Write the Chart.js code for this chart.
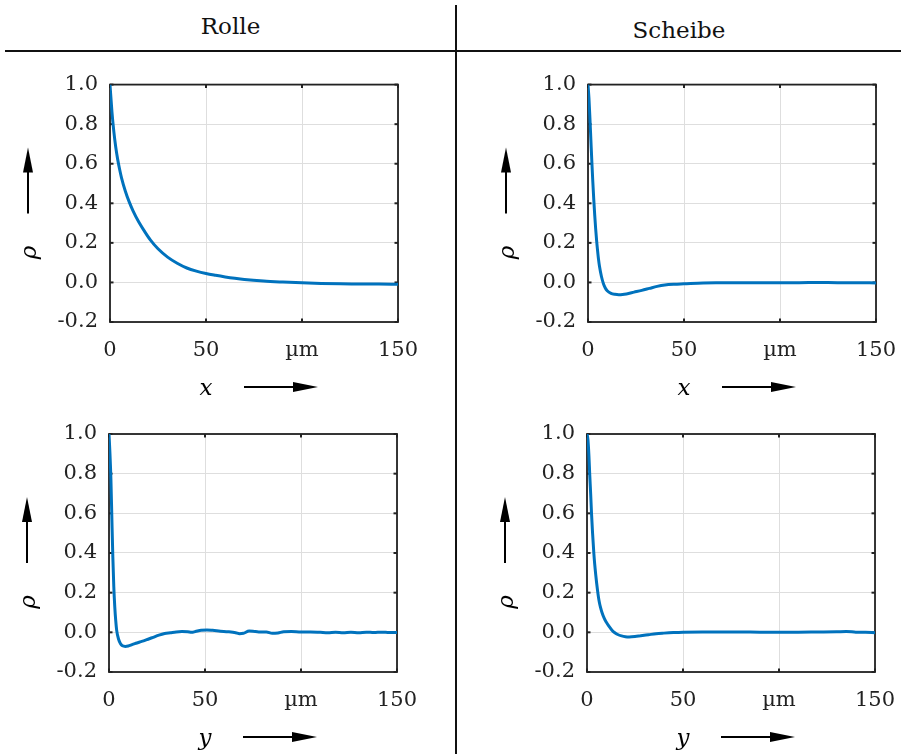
<!DOCTYPE html>
<html>
<head>
<meta charset="utf-8">
<script src="https://cdn.jsdelivr.net/npm/chart.js@4.4.1/dist/chart.umd.min.js"></script>
<style>
  html, body { margin: 0; padding: 0; background: #fff; }
  body { width: 902px; height: 754px; position: relative; overflow: hidden; font-family: "DejaVu Serif", serif; }
  canvas { position: absolute; }
  .head { position: absolute; font-size: 23px; line-height: 23px; color: #111; text-align: center; }
  .rule { position: absolute; background: #111; }
</style>
</head>
<body>
<div class="head" style="left:5px;width:451px;top:15px;">Rolle</div>
<div class="head" style="left:456px;width:446px;top:19px;">Scheibe</div>
<div class="rule" style="left:5px;width:896px;top:50px;height:2px;"></div>
<div class="rule" style="left:455px;width:2px;top:5px;height:749px;"></div>

<canvas id="c1" width="450" height="340" style="left:0px;top:60px;"></canvas>
<canvas id="c2" width="464" height="340" style="left:458px;top:60px;"></canvas>
<canvas id="c3" width="450" height="354" style="left:0px;top:400px;"></canvas>
<canvas id="c4" width="464" height="354" style="left:458px;top:400px;"></canvas>

<script>
// Axis ticks
const xTickValues = [0, 50, 100, 150];
const xTickLabels = ['0', '50', 'µm', '150'];
const yTickValues = [-0.2, 0, 0.2, 0.4, 0.6, 0.8, 1.0];
const yTickLabels = ['-0.2', '0.0', '0.2', '0.4', '0.6', '0.8', '1.0'];

// Roller, x direction: autocorrelation rho over lag (µm)
const rolleXLag = [0, 1, 2, 3, 4, 5, 6, 8, 10, 12, 15, 18, 21, 25, 30, 35, 40, 45, 50, 55, 60, 65, 70, 80, 90, 100, 110, 120, 130, 140, 150];
const rolleXRho = [1.0, 0.863, 0.762, 0.683, 0.622, 0.572, 0.529, 0.461, 0.407, 0.362, 0.305, 0.258, 0.215, 0.170, 0.128, 0.097, 0.073, 0.057, 0.045, 0.036, 0.028, 0.021, 0.015, 0.007, 0.002, -0.002, -0.005, -0.007, -0.008, -0.008, -0.009];

// Disc, x direction
const scheibeXLag = [0, 0.5, 1, 1.5, 2, 2.5, 3, 3.5, 4, 4.5, 5, 5.5, 6, 7, 8, 9, 10, 12, 14, 16, 18, 20, 24, 28, 32, 36, 40, 45, 50, 60, 70, 80, 90, 100, 110, 120, 130, 140, 150];
const scheibeXRho = [1.0, 0.93, 0.83, 0.72, 0.61, 0.51, 0.42, 0.34, 0.27, 0.21, 0.16, 0.115, 0.08, 0.03, -0.005, -0.028, -0.042, -0.055, -0.060, -0.062, -0.061, -0.058, -0.049, -0.040, -0.030, -0.020, -0.013, -0.009, -0.007, -0.003, -0.002, -0.001, -0.002, -0.001, -0.001, 0.0, -0.001, -0.001, -0.003];

// Roller, y direction
const rolleYLag = [0, 0.5, 1, 1.5, 2, 2.5, 3, 3.5, 4, 5, 6, 7, 8.5, 10, 12, 14, 16, 18, 20, 23, 26, 29, 32, 35, 38, 41, 43, 45, 48, 51, 54, 58, 62, 66, 68, 70, 73, 75, 78, 82, 85, 88, 91, 95, 100, 105, 110, 114, 118, 122, 126, 130, 134, 138, 142, 146, 150];
const rolleYRho = [1.0, 0.90, 0.77, 0.57, 0.38, 0.23, 0.13, 0.06, 0.01, -0.035, -0.058, -0.068, -0.071, -0.069, -0.062, -0.055, -0.049, -0.043, -0.036, -0.025, -0.014, -0.006, -0.002, 0.002, 0.004, 0.003, 0.0, 0.004, 0.011, 0.012, 0.010, 0.006, 0.003, -0.002, -0.007, -0.005, 0.007, 0.006, 0.002, 0.002, -0.005, -0.003, 0.003, 0.004, 0.002, 0.002, 0.0, -0.002, 0.001, -0.002, 0.001, -0.002, 0.001, -0.001, 0.001, -0.001, -0.001];

// Disc, y direction
const scheibeYLag = [0, 0.5, 1.0, 1.4, 1.9, 2.35, 2.9, 3.55, 4, 4.5, 5, 5.5, 6, 6.5, 7, 7.8, 9, 10, 11.5, 13, 14.5, 16, 18, 20, 22, 25, 28, 32, 36, 40, 45, 50, 60, 70, 80, 90, 100, 110, 120, 130, 135, 140, 145, 150];
const scheibeYRho = [1.0, 0.97, 0.89, 0.80, 0.70, 0.60, 0.50, 0.40, 0.345, 0.295, 0.25, 0.21, 0.175, 0.148, 0.127, 0.10, 0.07, 0.052, 0.030, 0.011, -0.002, -0.011, -0.018, -0.022, -0.023, -0.021, -0.017, -0.012, -0.007, -0.004, -0.001, 0.001, 0.002, 0.002, 0.002, 0.001, 0.001, 0.001, 0.002, 0.003, 0.004, 0.001, 0.0, -0.002];

const INK = '#222';
const TICK_FONT = { family: '"DejaVu Serif", serif', size: 21 };

function line(ctx, x1, y1, x2, y2) {
  ctx.beginPath(); ctx.moveTo(x1, y1); ctx.lineTo(x2, y2); ctx.stroke();
}

// Box around the plot area with inward tick marks
const framePlugin = {
  id: 'frame',
  beforeDatasetsDraw(chart) {
    const { ctx, chartArea: a, scales: { x, y } } = chart;
    ctx.save();
    ctx.strokeStyle = INK;
    ctx.lineWidth = 1.8;
    ctx.strokeRect(a.left, a.top, a.right - a.left, a.bottom - a.top);
    ctx.lineWidth = 2;
    const tl = 3.5;
    xTickValues.forEach(v => {
      const px = x.getPixelForValue(v);
      line(ctx, px, a.bottom, px, a.bottom - tl);
      line(ctx, px, a.top, px, a.top + tl);
    });
    yTickValues.forEach(v => {
      const py = y.getPixelForValue(v);
      line(ctx, a.left, py, a.left + tl, py);
      line(ctx, a.right, py, a.right - tl, py);
    });
    ctx.restore();
  }
};

// Axis symbols with arrows
const axisTitlePlugin = {
  id: 'axisTitles',
  afterDraw(chart, args, opts) {
    const { ctx, chartArea: a } = chart;
    ctx.save();
    ctx.fillStyle = '#000';
    ctx.strokeStyle = '#000';
    ctx.lineWidth = 2;
    ctx.font = 'italic 23px "DejaVu Serif", serif';

    // horizontal axis symbol and arrow
    ctx.textAlign = 'center';
    ctx.textBaseline = 'alphabetic';
    ctx.fillText(opts.xSymbol, a.left + 96, a.bottom + 73);
    const ay = a.bottom + 65;
    const ax0 = a.left + 134, ax1 = a.left + 208;
    line(ctx, ax0, ay, ax1 - 20, ay);
    ctx.beginPath();
    ctx.moveTo(ax1, ay); ctx.lineTo(ax1 - 25, ay - 5); ctx.lineTo(ax1 - 25, ay + 5); ctx.closePath();
    ctx.fill();

    // vertical axis symbol and arrow
    ctx.save();
    ctx.translate(a.left - 80, a.top + 168);
    ctx.rotate(-Math.PI / 2);
    ctx.textAlign = 'center';
    ctx.textBaseline = 'middle';
    ctx.fillText('ρ', 0, 0);
    ctx.restore();
    const vx = a.left - 82;
    const vy0 = a.top + 129, vy1 = a.top + 63;
    line(ctx, vx, vy0, vx, vy1 + 20);
    ctx.beginPath();
    ctx.moveTo(vx, vy1); ctx.lineTo(vx - 5, vy1 + 25); ctx.lineTo(vx + 5, vy1 + 25); ctx.closePath();
    ctx.fill();
    ctx.restore();
  }
};

function makeChart(id, lags, rho, pad, xSymbol) {
  const points = lags.map((l, i) => ({ x: l, y: rho[i] }));
  return new Chart(document.getElementById(id), {
    type: 'line',
    data: {
      datasets: [{
        data: points,
        borderColor: '#0072BD',
        borderWidth: 3,
        pointRadius: 0,
        cubicInterpolationMode: 'monotone',
        fill: false
      }]
    },
    options: {
      responsive: false,
      animation: false,
      devicePixelRatio: 1,
      layout: { padding: pad },
      plugins: {
        legend: { display: false },
        tooltip: { enabled: false },
        axisTitles: { xSymbol: xSymbol }
      },
      scales: {
        x: {
          type: 'linear',
          min: 0, max: 150,
          afterBuildTicks: s => { s.ticks = xTickValues.map(v => ({ value: v })); },
          afterFit: s => { s.height = 40; },
          grid: { color: '#dedede', lineWidth: 1, drawTicks: false },
          border: { display: false },
          ticks: {
            padding: 16,
            color: INK,
            font: TICK_FONT,
            maxRotation: 0,
            autoSkip: false,
            callback: v => xTickLabels[xTickValues.indexOf(v)]
          }
        },
        y: {
          type: 'linear',
          min: -0.2, max: 1.0,
          afterBuildTicks: s => { s.ticks = yTickValues.map(v => ({ value: v })); },
          afterFit: s => { s.width = 60; },
          grid: { color: '#dedede', lineWidth: 1, drawTicks: false },
          border: { display: false },
          ticks: {
            padding: 12,
            color: INK,
            font: TICK_FONT,
            autoSkip: false,
            callback: v => {
              const i = yTickValues.findIndex(t => Math.abs(t - v) < 1e-9);
              return i >= 0 ? yTickLabels[i] : '';
            }
          }
        }
      }
    },
    plugins: [framePlugin, axisTitlePlugin]
  });
}

makeChart('c1', rolleXLag, rolleXRho, { left: 50, top: 24, right: 52, bottom: 38 }, 'x');
makeChart('c2', scheibeXLag, scheibeXRho, { left: 70, top: 24, right: 46, bottom: 38 }, 'x');
makeChart('c3', rolleYLag, rolleYRho, { left: 49, top: 34, right: 53, bottom: 42 }, 'y');
makeChart('c4', scheibeYLag, scheibeYRho, { left: 69, top: 34, right: 47, bottom: 42 }, 'y');
</script>
</body>
</html>
